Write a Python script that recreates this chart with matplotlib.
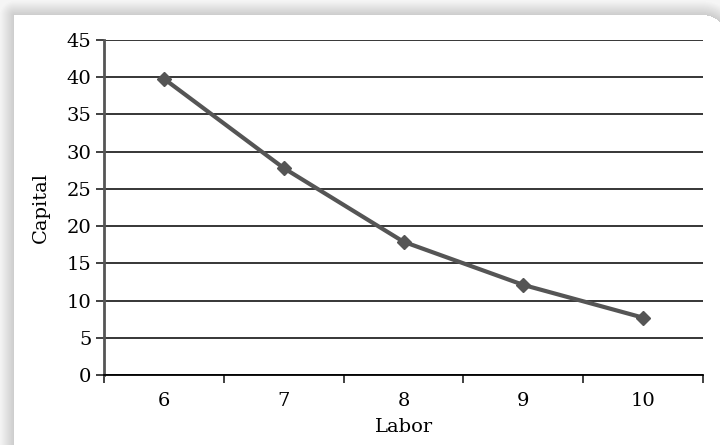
import numpy as np
import matplotlib
matplotlib.use("Agg")
import matplotlib.pyplot as plt

labor = ["6", "7", "8", "9", "10"]
capital = [39.8, 27.8, 17.9, 12.1, 7.7]
y_ticks = [0, 5, 10, 15, 20, 25, 30, 35, 40, 45]

plt.rcParams['font.family'] = ['DejaVu Serif']

W, H = 720, 445
fig = plt.figure(figsize=(W / 100, H / 100), dpi=100)

# card background with soft shadow
yy, xx = np.mgrid[0:H, 0:W] + 0.5
x0, y0, x1, r = 14, 15, 728, 26
dx = np.maximum(x0 - xx, 0)
dy = np.maximum(y0 - yy, 0)
d = np.hypot(dx, dy)
# rounded top-right corner
cx, cy = x1 - r, y0 + r
corner = (xx > cx) & (yy < cy)
dc = np.maximum(np.hypot(xx - cx, yy - cy) - r, 0)
d = np.where(corner, np.maximum(d, dc), d)
shade = np.where(d > 0, 0.80 + 0.16 * np.clip(d / 14, 0, 1), 1.0)
bg = fig.add_axes([0, 0, 1, 1])
bg.imshow(shade, cmap="gray", vmin=0, vmax=1, extent=[0, W, H, 0], aspect="auto",
          interpolation="bilinear")
bg.axis("off")

ax = fig.add_axes([104 / W, 1 - 375 / H, 599 / W, 335 / H])
ax.set_facecolor("none")
x = np.arange(len(labor))
ax.plot(x, capital, color="#555555", lw=3, marker="D", ms=7, zorder=3)

ax.set_xlim(-0.5, len(labor) - 0.5)
ax.set_ylim(0, 45)
ax.set_yticks(y_ticks)
ax.yaxis.grid(True, color="black", lw=1.1)
ax.set_axisbelow(True)

ax.set_xticks(np.arange(len(labor) + 1) - 0.5)
ax.set_xticklabels([])
ax.set_xticks(x, minor=True)
ax.set_xticklabels(labor, minor=True)
ax.tick_params(axis="x", which="major", length=6, width=1.3, color="#333333")
ax.tick_params(axis="x", which="minor", length=0, pad=12, labelsize=14)
ax.tick_params(axis="y", length=6, width=1.3, color="#333333", labelsize=14, pad=3)

for s in ["top", "right"]:
    ax.spines[s].set_visible(False)
ax.spines["left"].set_color("#555555")
ax.spines["left"].set_linewidth(2)
ax.spines["bottom"].set_color("black")
ax.spines["bottom"].set_linewidth(1.3)

ax.set_xlabel("Labor", fontsize=14, labelpad=6)
ax.set_ylabel("Capital", fontsize=14, labelpad=12)

fig.savefig("out.png", dpi=100)
